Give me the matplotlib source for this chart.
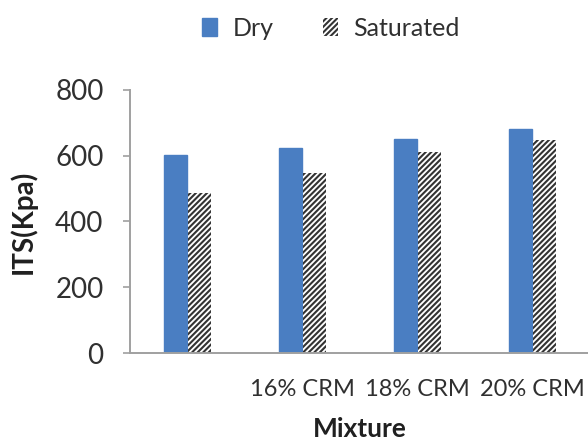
import numpy as np
import matplotlib.pyplot as plt
from matplotlib.patches import Patch

plt.rcParams['font.family'] = ['Lato', 'DejaVu Sans']
plt.rcParams['hatch.linewidth'] = 1.5
plt.rcParams['hatch.color'] = '#333333'

categories = ['', '16% CRM', '18% CRM', '20% CRM']
dry = [601, 622, 652, 680]
saturated = [486, 547, 612, 648]
yticks = [0, 200, 400, 600, 800]

fig = plt.figure(figsize=(5.88, 4.46), dpi=100)
ax = fig.add_axes([0.221, 0.2085, 0.782, 0.59])

x = np.arange(len(categories))
w = 0.2
ax.bar(x - w / 2 - 0.005, dry, w, color='#4A7EC2', edgecolor='#4A7EC2', label='Dry')
ax.bar(x + w / 2 + 0.005, saturated, w, color='white', edgecolor='#333333',
       hatch='//////', linewidth=0, label='Saturated')

ax.set_xlim(-0.5, 3.5)
ax.set_ylim(0, 800)
ax.set_yticks(yticks)
ax.set_xticks(x)
ax.set_xticklabels(categories)
ax.tick_params(axis='y', length=5, width=1.2, color='#a0a0a0', labelsize=20,
               labelcolor='#303030', pad=14)
ax.tick_params(axis='x', length=0, labelsize=17, labelcolor='#303030', pad=19)
for s in ['top', 'right']:
    ax.spines[s].set_visible(False)
for s in ['left', 'bottom']:
    ax.spines[s].set_color('#a0a0a0')
    ax.spines[s].set_linewidth(1.4)

ax.set_ylabel('ITS(Kpa)', fontsize=20, fontweight='bold', color='#202020')
ax.yaxis.set_label_coords(-0.202, 0.5)
ax.set_xlabel('Mixture', fontsize=19, fontweight='bold', color='#202020')
ax.xaxis.set_label_coords(0.5, -0.242)

handles = [Patch(facecolor='#4A7EC2', edgecolor='#4A7EC2', label='Dry'),
           Patch(facecolor='white', edgecolor='#333333', hatch='//////',
                 linewidth=0, label='Saturated')]
fig.legend(handles=handles, loc='center', bbox_to_anchor=(331 / 588, 1 - 28 / 446),
           ncol=2, frameon=False, fontsize=18, handlelength=0.6, handleheight=0.7,
           columnspacing=2.0, handletextpad=0.6, labelcolor='#303030')

fig.savefig('out.png', dpi=100)
